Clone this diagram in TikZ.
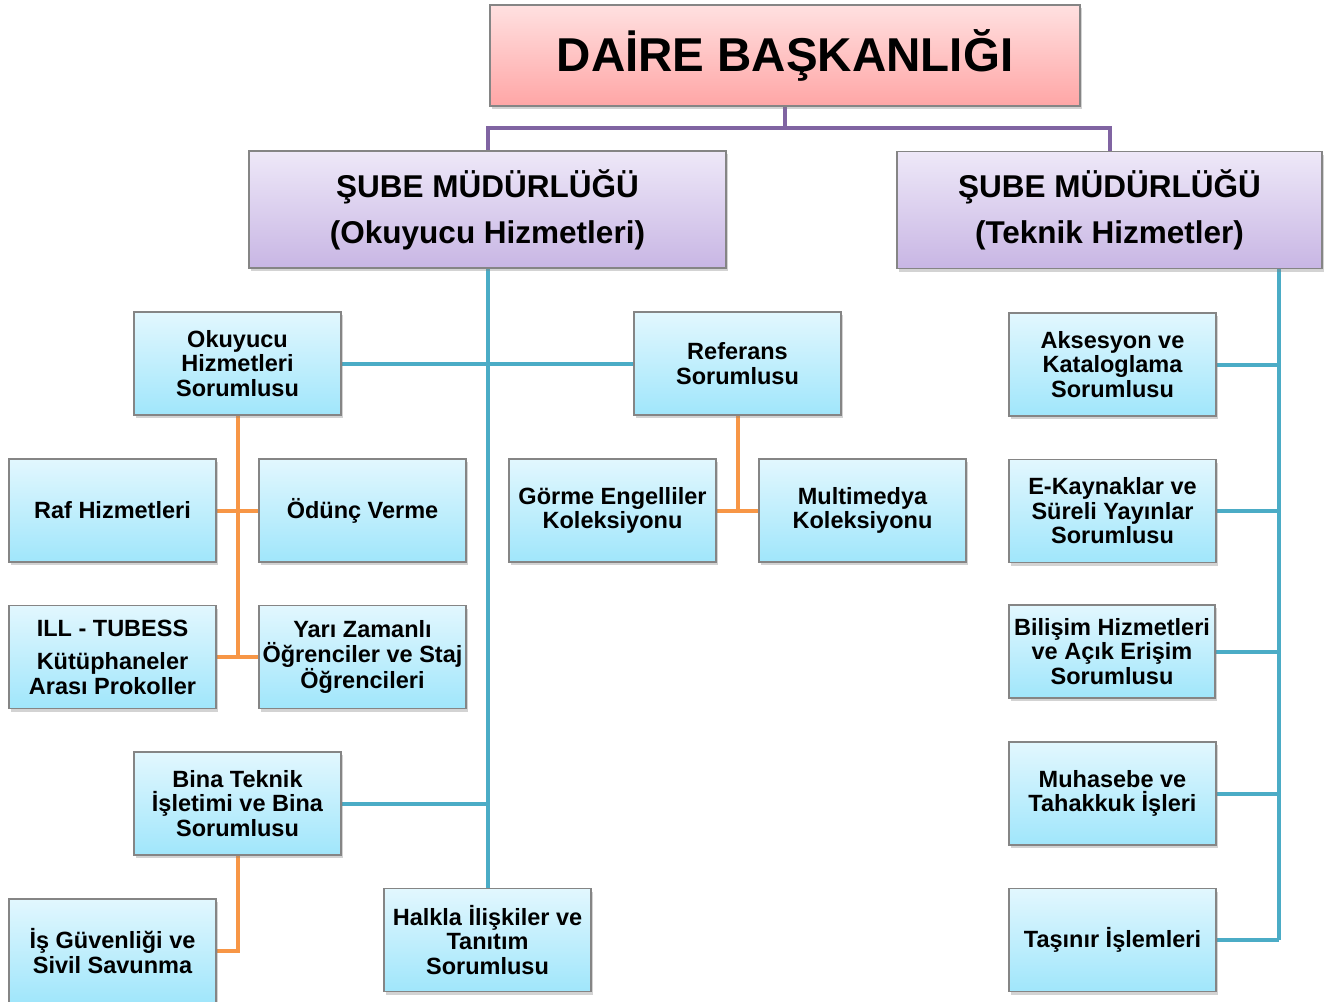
\documentclass[tikz,border=0pt]{standalone}
\usepackage{fontspec}
\setmainfont{Liberation Sans}
\usetikzlibrary{shadows,backgrounds}
\definecolor{lpurple}{HTML}{8064A2}
\definecolor{lteal}{HTML}{4BACC6}
\definecolor{lorange}{HTML}{F79646}
\definecolor{bordergray}{HTML}{858585}
\begin{document}
\begin{tikzpicture}[x=1pt,y=-1pt,
  basebox/.style={draw=bordergray, line width=1.2pt, rectangle, align=center, inner sep=0pt,
    drop shadow={opacity=0.35, shadow xshift=2pt, shadow yshift=-3pt}},
  topbox/.style={basebox, top color=red!12, bottom color=red!35!white, minimum width=590pt, minimum height=101pt,
    font=\fontsize{47.5}{50}\selectfont\bfseries},
  subebox/.style={basebox, top color={rgb,255:red,238;green,232;blue,248}, bottom color={rgb,255:red,200;green,182;blue,228},
    minimum height=117pt, font=\fontsize{31.5}{46}\selectfont\bfseries},
  bbox/.style={basebox, top color={rgb,255:red,226;green,247;blue,254}, bottom color={rgb,255:red,160;green,230;blue,251},
    minimum width=207pt, minimum height=103pt, font=\fontsize{23.5}{24.5}\selectfont\bfseries},
  pline/.style={draw=lpurple, line width=4pt},
  tline/.style={draw=lteal, line width=4pt},
  oline/.style={draw=lorange, line width=4pt}]
\useasboundingbox (0,0) rectangle (1335,1001);

\node[topbox] (top) at (785,55.5) {DAİRE BAŞKANLIĞI};
\node[subebox, minimum width=477pt] (sube1) at (487.5,209.5) {ŞUBE MÜDÜRLÜĞÜ\\(Okuyucu Hizmetleri)};
\node[subebox, minimum width=425pt] (sube2) at (1109.5,210) {ŞUBE MÜDÜRLÜĞÜ\\(Teknik Hizmetler)};

\node[bbox] (okuyucu) at (237.5,363.5) {Okuyucu\\Hizmetleri\\Sorumlusu};
\node[bbox] (referans) at (737.5,363.5) {Referans\\Sorumlusu};
\node[bbox] (raf) at (112.5,510.5) {Raf Hizmetleri};
\node[bbox] (odunc) at (362.5,510.5) {Ödünç Verme};
\node[bbox] (ill) at (112.5,657) {ILL - TUBESS\\[9pt]Kütüphaneler\\Arası Prokoller};
\node[bbox] (yari) at (362.5,657) {Yarı Zamanlı\\Öğrenciler ve Staj\\Öğrencileri};
\node[bbox] (gorme) at (612.5,510.5) {Görme Engelliler\\Koleksiyonu};
\node[bbox] (multi) at (862.5,510.5) {Multimedya\\Koleksiyonu};
\node[bbox] (bina) at (237.5,803.5) {Bina Teknik\\İşletimi ve Bina\\Sorumlusu};
\node[bbox, minimum height=104pt] (isg) at (112.5,951) {İş Güvenliği ve\\Sivil Savunma};
\node[bbox] (halkla) at (487.5,940) {Halkla İlişkiler ve\\Tanıtım\\Sorumlusu};

\node[bbox] (aks) at (1112.5,364.5) {Aksesyon ve\\Kataloglama\\Sorumlusu};
\node[bbox] (ekay) at (1112.5,511) {E-Kaynaklar ve\\Süreli Yayınlar\\Sorumlusu};
\node[bbox, minimum width=206pt, minimum height=93pt] (bilisim) at (1112,651.5) {Bilişim Hizmetleri\\ve Açık Erişim\\Sorumlusu};
\node[bbox] (muh) at (1112.5,793.5) {Muhasebe ve\\Tahakkuk İşleri};
\node[bbox] (tas) at (1112.5,940) {Taşınır İşlemleri};

\coordinate (pj) at (785,128);
\coordinate (rt) at (1279,940);

\begin{scope}[on background layer]
  \draw[pline] (top.south) -- (pj);
  \draw[pline] (sube1.north) |- (pj) -| (sube2.north);
  \draw[tline] (sube1.south) -- (halkla.north);
  \draw[tline] (okuyucu.east) -- (referans.west);
  \draw[tline] (bina.east) -- (bina.east -| sube1.south);
  \draw[tline] (sube2.south -| rt) -- (rt);
  \draw[tline] (aks.east) -- (aks.east -| rt);
  \draw[tline] (ekay.east) -- (ekay.east -| rt);
  \draw[tline] (bilisim.east) -- (bilisim.east -| rt);
  \draw[tline] (muh.east) -- (muh.east -| rt);
  \draw[tline] (tas.east) -- (rt);
  \draw[oline] (okuyucu.south) -- (okuyucu.south |- yari.west);
  \draw[oline] (raf.east) -- (odunc.west);
  \draw[oline] (ill.east) -- (yari.west);
  \draw[oline] (referans.south) -- (referans.south |- gorme.east);
  \draw[oline] (gorme.east) -- (multi.west);
  \draw[oline] (bina.south) |- (isg.east);
\end{scope}
\end{tikzpicture}
\end{document}
